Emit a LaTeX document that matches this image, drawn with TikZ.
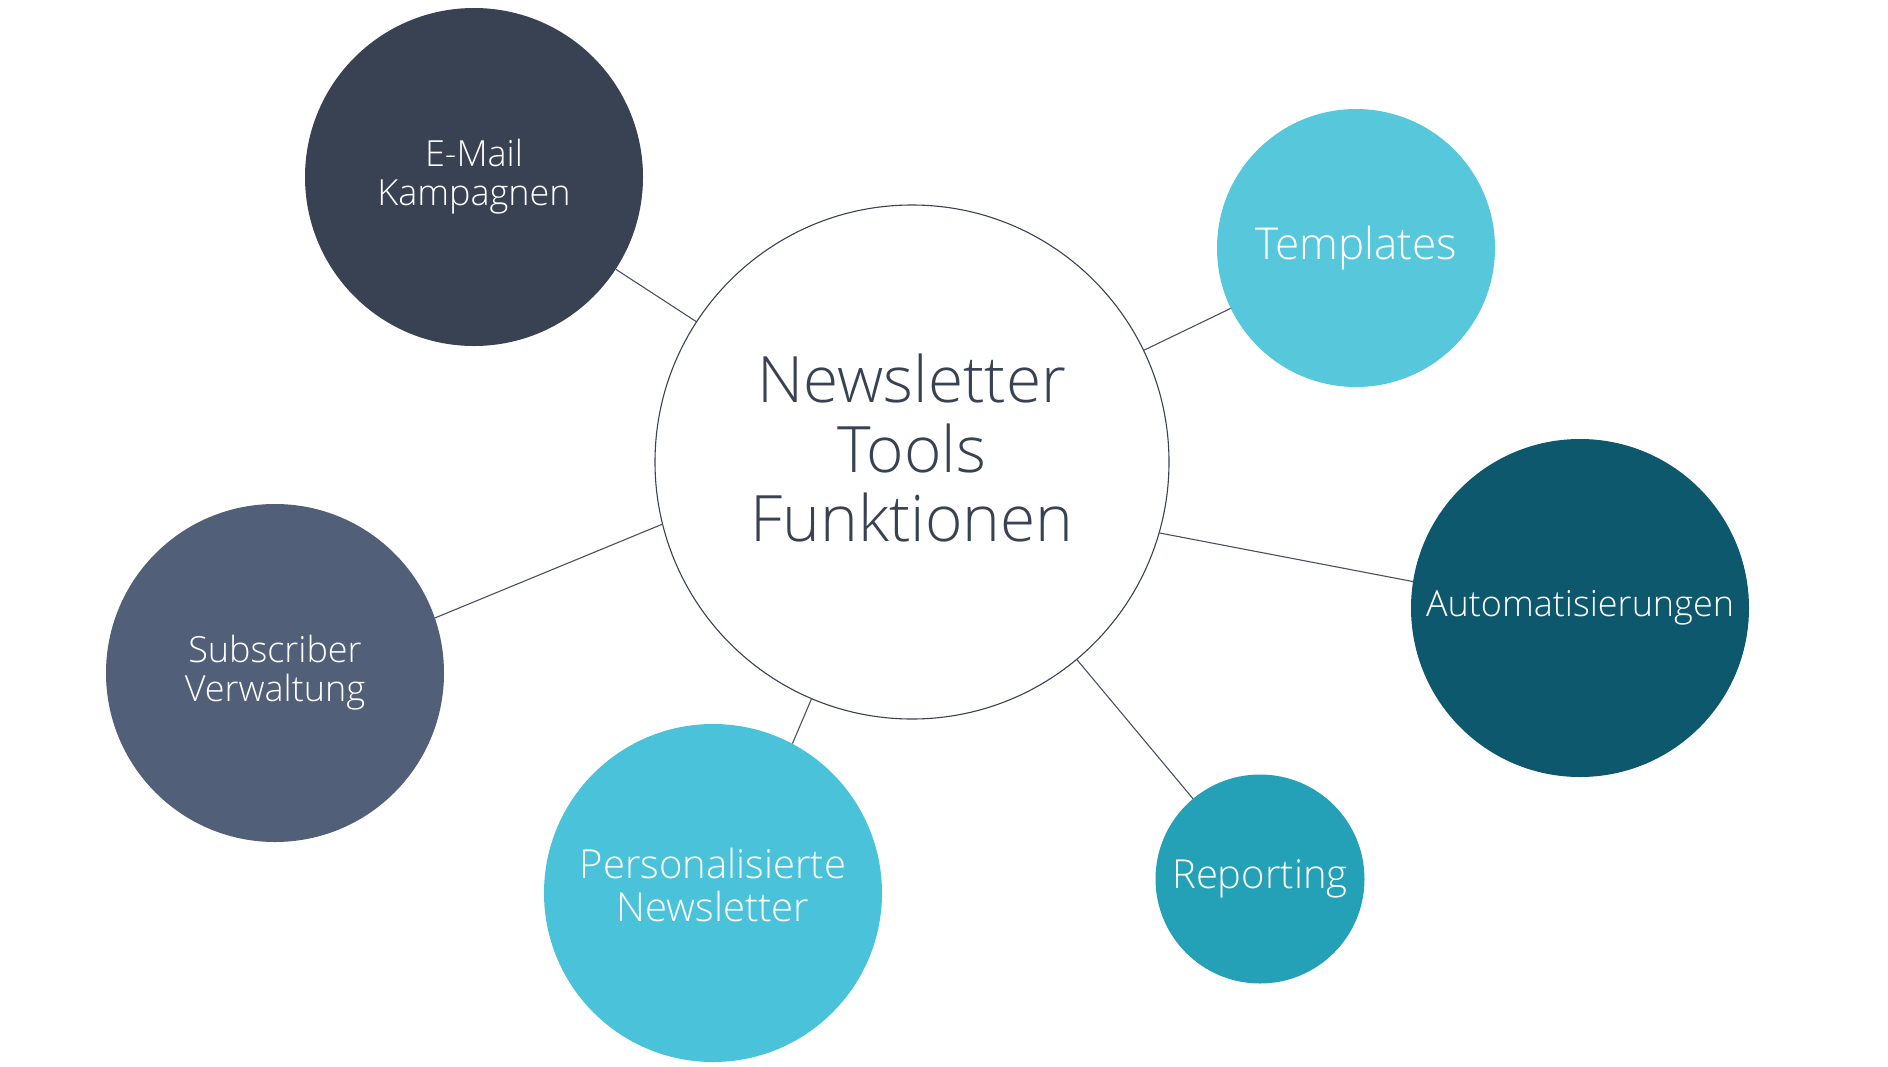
\documentclass[tikz,border=0pt]{standalone}
\usepackage{fontspec}
\setmainfont{Open Sans}[UprightFont={* Light}]
\usepackage{tikz}
\usetikzlibrary{positioning}
\definecolor{navy}{HTML}{394253}
\definecolor{slate}{HTML}{525F78}
\definecolor{skyblue}{HTML}{57C8DB}
\definecolor{cyanblue}{HTML}{4AC3DA}
\definecolor{petrol}{HTML}{0E586E}
\definecolor{teal_mid}{HTML}{24A0B7}
\definecolor{linegray}{HTML}{4A5060}
\tikzset{
hub/.style={circle, draw=navy, line width=1.1pt, fill=white, minimum size=514pt, inner sep=0pt},
hub_text/.style={text=navy, inner sep=0pt, align=center, font=\fontsize{64}{69.5}\selectfont},
topic/.style={circle, draw=none, text=white, minimum size=338pt, inner sep=0pt, align=center, font=\fontsize{36}{39}\selectfont},
topic_text/.style={text=white, inner sep=0pt, align=center},
topic_small/.style={topic, minimum size=278pt},
link/.style={draw=linegray, line width=1.1pt}
}
\begin{document}
\begin{tikzpicture}[x=1pt, y=-1pt]
    \useasboundingbox (0,0) rectangle (1888,1066);
    \node[hub] (hub) at (912,462) {};
    \node[hub_text] (hub_label) at ([yshift=14pt]hub.center) {Newsletter\\Tools\\Funktionen};
    \node[topic, fill=navy] (kampagnen) at (474,177) {E-Mail\\Kampagnen};
    \node[topic_small, fill=skyblue, font=\fontsize{44}{48}\selectfont] (templates) at (1356,248) {Templates};
    \node[topic, fill=petrol] (automation) at (1580,608) {Automatisierungen};
    \node[topic, fill=teal_mid, minimum size=209pt, font=\fontsize{40}{44}\selectfont] (reporting) at (1260,879) {Reporting};
    \node[topic, fill=cyanblue] (personal) at (713,893) {};
    \node[topic_text, font=\fontsize{40}{43}\selectfont] (personal_label) at ([yshift=8pt]personal.center) {Personalisierte\\Newsletter};
    \node[topic, fill=slate] (subscriber) at (275,673) {Subscriber\\Verwaltung};
    \draw[link] (hub) -- (kampagnen);
    \draw[link] (hub) -- (templates);
    \draw[link] (hub.-16.8) -- (automation.171.5);
    \draw[link] (hub) -- (reporting);
    \draw[link] (hub.-113.7) -- (personal.62.8);
    \draw[link] (hub.194.8) -- (subscriber.19.3);
\end{tikzpicture}
\end{document}
